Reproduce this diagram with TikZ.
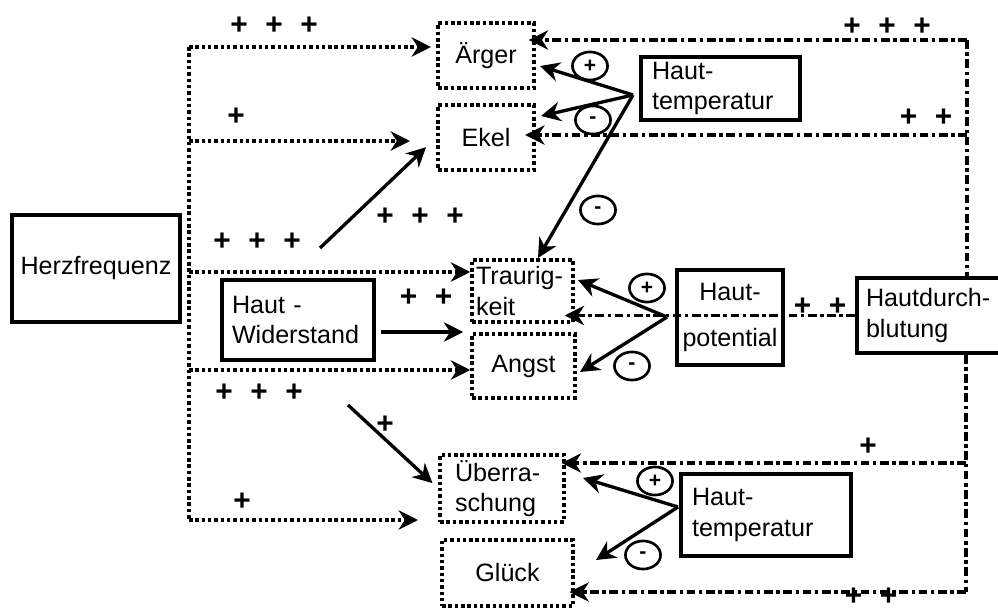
\documentclass[tikz,border=0pt]{standalone}
\usepackage{fontspec}
\setmainfont{Liberation Sans}
\usetikzlibrary{arrows.meta,shapes.geometric}
\tikzset{
  >={Stealth[length=11pt,width=11pt,inset=3.5pt]},
  txt/.style={font=\fontsize{14.3}{17.5}\selectfont, inner sep=2pt},
  phys/.style={txt, draw, line width=2pt},
  emo/.style={txt, draw, line width=2pt, dash pattern=on 2pt off 1.6pt},
  dotline/.style={line width=2pt, dash pattern=on 2pt off 1.6pt},
  dotarr/.style={dotline, ->},
  dashline/.style={line width=2pt, dash pattern=on 5pt off 2pt on 2pt off 2pt},
  dasharr/.style={dashline, ->},
  solarr/.style={->, line width=1.9pt},
  sgn/.style={draw, ellipse, line width=1.5pt, minimum width=20pt, minimum height=16pt, inner sep=0pt, font=\fontsize{12}{12}\selectfont\bfseries},
  plus/.style={font=\fontsize{17}{17}\selectfont\bfseries, inner sep=0pt}
}
\newcommand{\gp}{\hspace{10pt}}
\begin{document}
\begin{tikzpicture}[x=0.02cm,y=-0.02cm]
		\useasboundingbox (0,0) rectangle (998,612);

		% boxes
		\node[phys, minimum width=3.36cm, minimum height=2.14cm] (herz) at (96,268.5) {Herzfrequenz};
		\node[emo, minimum width=1.92cm, minimum height=1.3cm] (aerger) at (486,55.5) {Ärger};
		\node[emo, minimum width=1.92cm, minimum height=1.3cm] (ekel) at (486,137.5) {Ekel};
		\node[emo, minimum width=2.02cm, minimum height=1.24cm, text width=1.86cm, align=left] (traurig) at (522.5,291) {Traurig-\\keit};
		\node[emo, minimum width=2.06cm, minimum height=1.28cm] (angst) at (523.5,366) {Angst};
		\node[emo, minimum width=2.48cm, minimum height=1.34cm, text width=1.88cm, align=left] (ueber) at (502,488.5) {Überra-\\schung};
		\node[emo, minimum width=2.62cm, minimum height=1.32cm] (glueck) at (507.5,573) {Glück};
		\node[phys, minimum width=3.18cm, minimum height=1.26cm, text width=2.74cm, align=left] (tempA) at (720.5,88.5) {Haut-\\temperatur};
		\node[phys, minimum width=3.04cm, minimum height=1.6cm, text width=2.64cm, align=left] (wider) at (298,320) {Haut -\\Widerstand};
		\node[phys, minimum width=2.12cm, minimum height=1.9cm, align=center] (potential) at (730,317.5) {Haut-\\[9pt]potential};
		\node[phys, minimum width=2.92cm, minimum height=1.5cm, text width=2.56cm, align=left] (durch) at (930,315.5) {Hautdurch-\\blutung};
		\node[phys, minimum width=3.4cm, minimum height=1.64cm, text width=2.96cm, align=left] (tempB) at (766,515) {Haut-\\temperatur};

		% Herzfrequenz (dotted)
		\coordinate (t1) at (189,47);
		\coordinate (t2) at (189,141);
		\coordinate (t3) at (189,272);
		\coordinate (t4) at (189,370);
		\coordinate (t5) at (189,520);
		\coordinate (e2) at (410,141);
		\coordinate (e5) at (418,520);
		\draw[dotline] (t1) -- (t5);
		\draw[dotarr, shorten >=3pt] (t1) -- (aerger.west |- t1);
		\draw[dotarr] (t2) -- (e2);
		\draw[dotarr] (t3) -- (traurig.west |- t3);
		\draw[dotarr] (t4) -- (angst.west |- t4);
		\draw[dotarr] (t5) -- (e5);

		% Hautdurchblutung (dash-dot)
		\coordinate (r1) at (967,40);
		\coordinate (r2) at (967,135);
		\coordinate (r3) at (966,463);
		\coordinate (r4) at (966,592);
		\draw[dashline] (r1) -- (r1 |- durch.north);
		\draw[dasharr, shorten >=-4pt] (r1) -- (aerger.east |- r1);
		\draw[dasharr, shorten >=-6pt] (r2) -- (ekel.east |- r2);
		\draw[dasharr, shorten >=-5.7pt] (durch.west) -- (traurig.east |- durch.west);
		\draw[dashline] (r3 |- durch.south) -- (r4);
		\draw[dasharr, shorten >=-2.3pt] (r3) -- (ueber.east |- r3);
		\draw[dasharr, shorten >=-3pt] (r4) -- (glueck.east |- r4);

		% Haut-Widerstand (solid)
		\coordinate (s1) at (320,248);
		\coordinate (w1) at (381,332);
		\coordinate (s3) at (348,405);
		\draw[solarr, shorten >=8pt] (s1) -- (ekel.west);
		\draw[solarr, shorten >=4pt] (w1) -- (w1 -| angst.west);
		\draw[solarr, shorten >=4.5pt] (s3) -- (ueber.west);

		% Hauttemperatur / Hautpotential
		\coordinate (hA) at (633,95);
		\coordinate (hP) at (667,317);
		\coordinate (hB) at (678,507);
		\coordinate (ta) at (540,66);
		\coordinate (tb) at (541,116);
		\coordinate (tc) at (538,258);
		\coordinate (pa) at (578,280);
		\coordinate (pb) at (580,372);
		\coordinate (ua) at (583,478);
		\coordinate (ub) at (596,560);
		\draw[solarr] (hA) -- (ta);
		\draw[solarr] (hA) -- (tb);
		\draw[solarr] (hA) -- (tc);
		\draw[solarr] (hP) -- (pa);
		\draw[solarr] (hP) -- (pb);
		\draw[solarr] (hB) -- (ua);
		\draw[solarr] (hB) -- (ub);

		% signs
		\node[sgn] (sgA) at (590,66) {+};
		\node[sgn] (sgB) at (593,120) {-};
		\node[sgn] (sgC) at (598,210) {-};
		\node[sgn] (sgD) at (647,288) {+};
		\node[sgn] (sgE) at (632,366) {-};
		\node[sgn] (sgF) at (655,481) {+};
		\node[sgn] (sgG) at (643,555) {-};

		% plus labels
		\node[plus] (p1) at (274,26) {+\gp+\gp+};
		\node[plus] (p2) at (236,117) {+};
		\node[plus] (p3) at (257,242) {+\gp+\gp+};
		\node[plus] (p4) at (420,217) {+\gp+\gp+};
		\node[plus] (p5) at (426,298) {+\gp+};
		\node[plus] (p6) at (259,393) {+\gp+\gp+};
		\node[plus] (p7) at (385,425) {+};
		\node[plus] (p8) at (242,502) {+};
		\node[plus] (p9) at (887,27) {+\gp+\gp+};
		\node[plus] (p10) at (926,118) {+\gp+};
		\node[plus] (p11) at (820,307) {+\gp+};
		\node[plus] (p12) at (868,447) {+};
		\node[plus] (p13) at (871,597) {+\gp+};
	\end{tikzpicture}
\end{document}
